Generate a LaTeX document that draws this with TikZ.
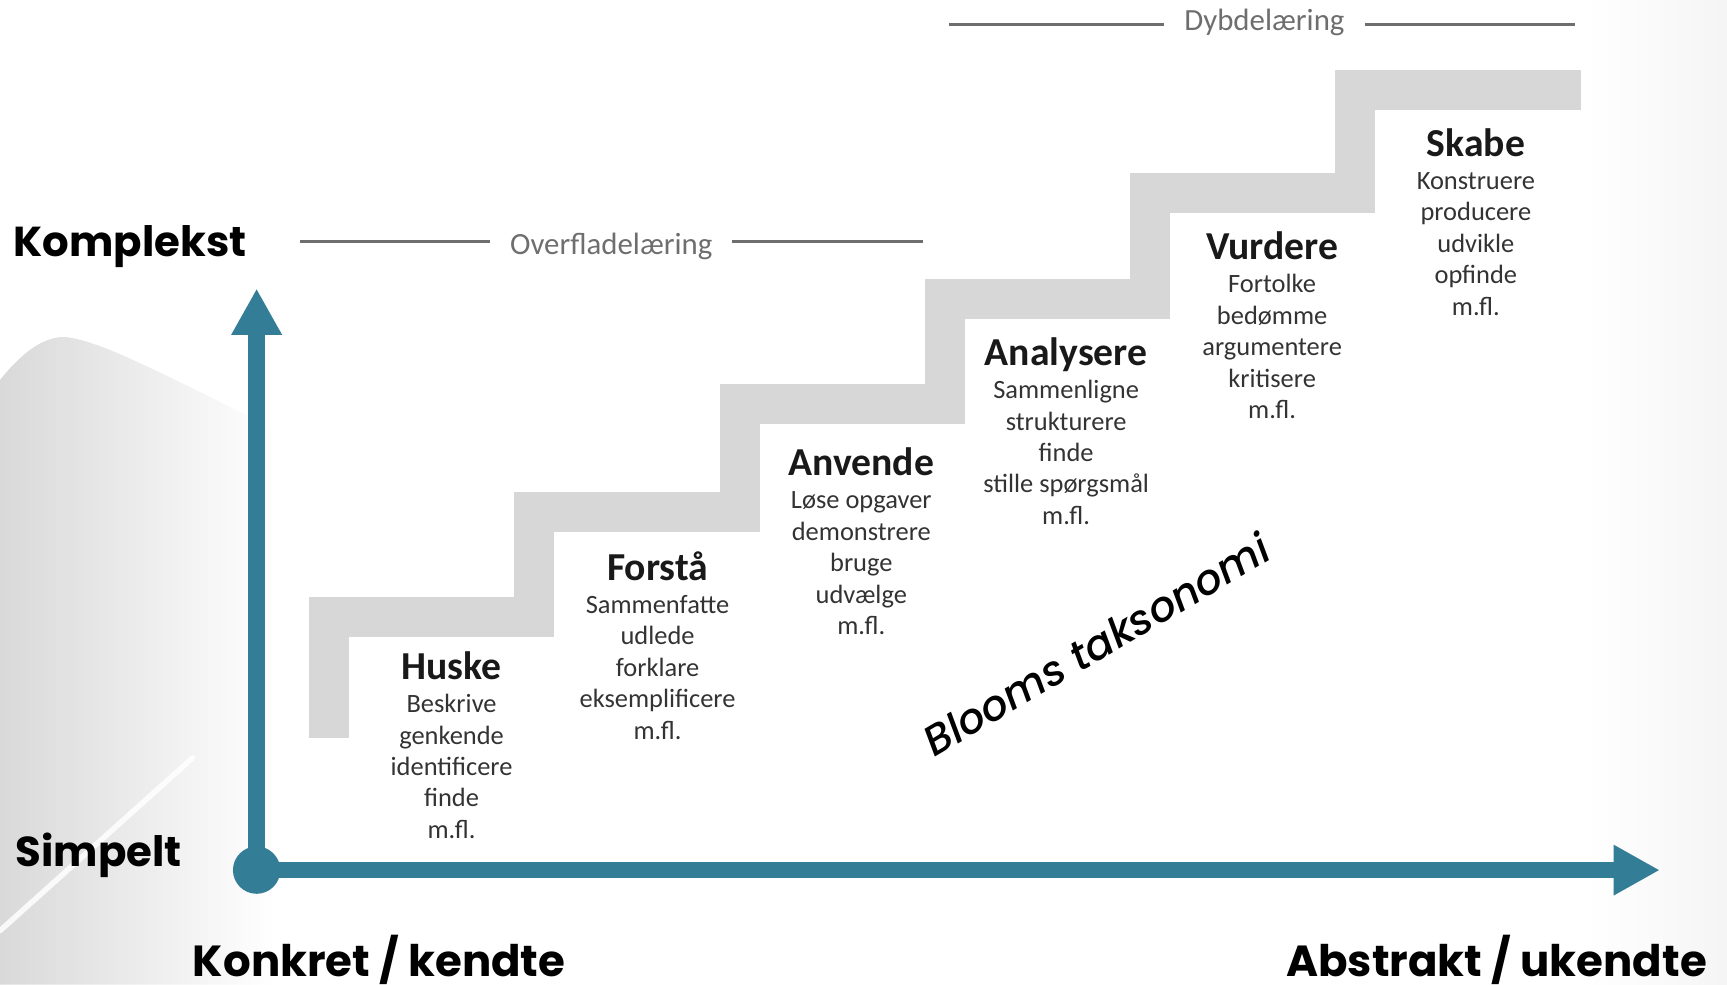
\documentclass[tikz,border=0pt]{standalone}
\usepackage{fontspec}
\setmainfont{Carlito}
\newfontfamily\axisfont{Poppins}
\newfontfamily\bloomfont{Poppins}[ItalicFont={Poppins Medium Italic}]
\usepackage{tikz}
\usetikzlibrary{arrows.meta}
\definecolor{axisblue}{HTML}{337D96}
\definecolor{stepgray}{HTML}{D7D7D7}
\definecolor{verbgray}{HTML}{333333}
\definecolor{headgray}{HTML}{6E6E6E}
\tikzset{
  lvltitle/.style={anchor=base, inner sep=0, text=black!90, font=\fontsize{36}{40}\selectfont\bfseries},
  lvlverb/.style={anchor=base, inner sep=0, text=verbgray, font=\fontsize{24}{28}\selectfont},
  axislabel/.style={inner sep=0, text depth=2, font=\fontsize{38}{42}\selectfont\axisfont\bfseries},
  depthlabel/.style={inner ysep=0, inner xsep=18, text=headgray, font=\fontsize{28}{32}\selectfont},
  depthline/.style={draw=headgray, line width=2.5},
  axis/.style={draw=axisblue, line width=15, -{Triangle[width=43pt,length=42pt]}},
}
\newcommand{\level}[5]{\node[lvltitle] (#1) at (#2,#3) {#4};
  \foreach \w [count=\i] in {#5} \node[lvlverb] (#1-\i) at (#2,{#3+30+28.5*(\i-1)}) {\w};}

\begin{document}
\begin{tikzpicture}[x=1pt, y=-1pt]
        \useasboundingbox (0,0) rectangle (1568,894);
        % background
        \shade[left color=black!15, middle color=black!9, right color=white] (0,345) .. controls (20,320) and (40,305) .. (60,306) .. controls (90,310) and (130,330) .. (250,390) -- (250,894) -- (0,894) -- cycle;
        \draw[white, line width=5, opacity=0.85, line cap=round] (0,845) -- (175,688);
        \fill[left color=white, right color=black!4] (1440,0) rectangle (1568,894);
        % staircase
        \draw[stepgray, line width=36.5, miter limit=4] (298.5,670) |- (485,560.5) |- (672,465) |- (858,366.5) |- (1044,271.5) |- (1230,175) |- (1435,82);
        % levels
        \level{huske}{410}{617}{Huske}{Beskrive, genkende, identificere, finde, m.fl.}
        \level{forstaa}{597}{527}{Forstå}{Sammenfatte, udlede, forklare, eksemplificere, m.fl.}
        \level{anvende}{782}{432}{Anvende}{Løse opgaver, demonstrere, bruge, udvælge, m.fl.}
        \level{analysere}{968}{332}{Analysere}{Sammenligne, strukturere, finde, stille spørgsmål, m.fl.}
        \level{vurdere}{1155}{236}{Vurdere}{Fortolke, bedømme, argumentere, kritisere, m.fl.}
        \level{skabe}{1340}{142}{Skabe}{Konstruere, producere, udvikle, opfinde, m.fl.}
        % depth of learning
        \node[depthlabel] (surface) at (555,224) {Overfladelæring};
        \coordinate (surface-l) at (272,219);
        \coordinate (surface-r) at (838,219);
        \draw[depthline] (surface-l) -- (surface-l -| surface.west);
        \draw[depthline] (surface-r -| surface.east) -- (surface-r);
        \node[depthlabel] (deep) at (1148,20) {Dybdelæring};
        \coordinate (deep-l) at (862,22);
        \coordinate (deep-r) at (1430,22);
        \draw[depthline] (deep-l) -- (deep-l -| deep.west);
        \draw[depthline] (deep-r -| deep.east) -- (deep-r);
        % axes
        \node[circle, fill=axisblue, inner sep=0, minimum size=43] (origin) at (233,790) {};
        \coordinate (ytip) at (233,262);
        \coordinate (xtip) at (1507,790);
        \draw[axis] (origin.center) -- (ytip);
        \draw[axis] (origin.center) -- (xtip);
        \node[axislabel, anchor=base west] (complex) at (12,233) {Komplekst};
        \node[axislabel, anchor=base west] (simple) at (14,787) {Simpelt};
        \node[axislabel, anchor=base west, font=\fontsize{39.5}{42}\selectfont\axisfont\bfseries] (concrete) at (175,887) {Konkret / kendte};
        \node[axislabel, anchor=base east, font=\fontsize{39.5}{42}\selectfont\axisfont\bfseries] (abstract) at (1550,887) {Abstrakt / ukendte};
        \node[rotate=30.5, font=\fontsize{38}{40}\selectfont\bloomfont\itshape] (bloom) at (995,585) {Blooms taksonomi};
\end{tikzpicture}
\end{document}
